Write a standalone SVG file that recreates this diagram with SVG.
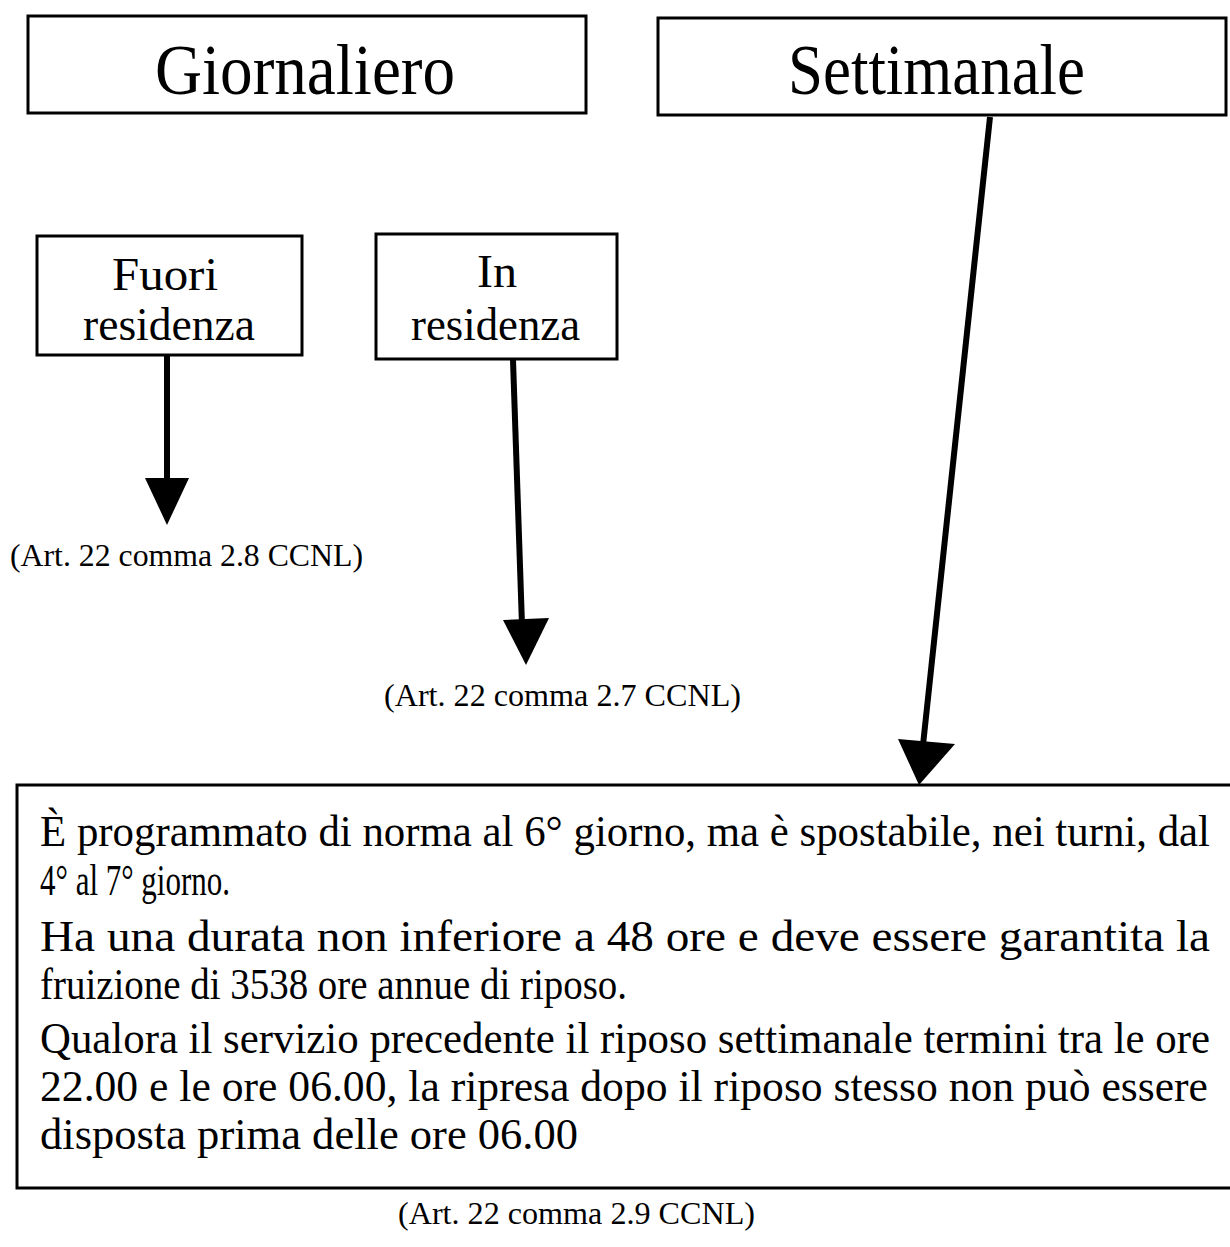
<svg xmlns="http://www.w3.org/2000/svg" width="1230" height="1247" viewBox="0 0 1230 1247">
<style>
.box{fill:#fff;stroke:#000;stroke-width:3}
.t{font-family:'Liberation Serif','Times New Roman',serif;fill:#000}
.big{font-size:72px}
.mid{font-size:46px}
.lab{font-size:32px}
.body{font-size:44px}
.conn{stroke:#000;stroke-width:6;fill:none}
.head{fill:#000;stroke:none}
</style>
<rect width="1230" height="1247" fill="#fff"/>
<g id="giornaliero">
<rect class="box" x="28" y="16" width="558" height="97"/>
<text class="t big" x="155" y="94" textLength="300" lengthAdjust="spacingAndGlyphs">Giornaliero</text>
</g>
<g id="settimanale">
<rect class="box" x="658" y="18" width="568" height="97"/>
<text class="t big" x="788" y="94" textLength="297" lengthAdjust="spacingAndGlyphs">Settimanale</text>
</g>
<g id="fuori">
<rect class="box" x="37" y="236" width="265" height="119"/>
<text class="t mid" x="112" y="290" textLength="106" lengthAdjust="spacingAndGlyphs">Fuori</text>
<text class="t mid" x="83" y="340" textLength="172" lengthAdjust="spacingAndGlyphs">residenza</text>
</g>
<g id="in">
<rect class="box" x="376" y="234" width="241" height="125"/>
<text class="t mid" x="477" y="287" textLength="40" lengthAdjust="spacingAndGlyphs">In</text>
<text class="t mid" x="411" y="340" textLength="169" lengthAdjust="spacingAndGlyphs">residenza</text>
</g>
<g id="connectors">
<line class="conn" x1="167" y1="356" x2="167" y2="482"/>
<polygon class="head" points="145,478 189,478 167,525"/>
<line class="conn" x1="513" y1="360" x2="522" y2="625"/>
<polygon class="head" points="503,620 549,618 526,665"/>
<line class="conn" x1="990" y1="117" x2="923" y2="745"/>
<polygon class="head" points="898,739 955,744 919,785"/>
</g>
<g id="label-28"><text class="t lab" x="10" y="566" textLength="353" lengthAdjust="spacingAndGlyphs">(Art. 22 comma 2.8 CCNL)</text></g>
<g id="label-27"><text class="t lab" x="384" y="706" textLength="357" lengthAdjust="spacingAndGlyphs">(Art. 22 comma 2.7 CCNL)</text></g>
<g id="riposo">
<rect class="box" x="17" y="785" width="1220" height="403"/>
<text class="t body" x="40" y="846" textLength="1170" lengthAdjust="spacingAndGlyphs">È programmato di norma al 6° giorno, ma è spostabile, nei turni, dal</text>
<text class="t body" x="40" y="895" textLength="190" lengthAdjust="spacingAndGlyphs">4° al 7° giorno.</text>
<text class="t body" x="40" y="951" textLength="1170" lengthAdjust="spacingAndGlyphs">Ha una durata non inferiore a 48 ore e deve essere garantita la</text>
<text class="t body" x="40" y="999" textLength="587" lengthAdjust="spacingAndGlyphs">fruizione di 3538 ore annue di riposo.</text>
<text class="t body" x="40" y="1053" textLength="1170" lengthAdjust="spacingAndGlyphs">Qualora il servizio precedente il riposo settimanale termini tra le ore</text>
<text class="t body" x="40" y="1101" textLength="1168" lengthAdjust="spacingAndGlyphs">22.00 e le ore 06.00, la ripresa dopo il riposo stesso non può essere</text>
<text class="t body" x="40" y="1149" textLength="538" lengthAdjust="spacingAndGlyphs">disposta prima delle ore 06.00</text>
</g>
<g id="label-29"><text class="t lab" x="398" y="1224" textLength="357" lengthAdjust="spacingAndGlyphs">(Art. 22 comma 2.9 CCNL)</text></g>
</svg>
